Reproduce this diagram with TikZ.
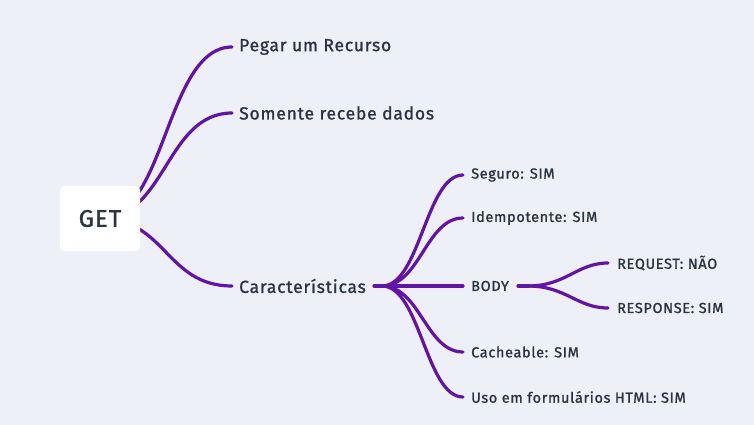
\documentclass[tikz,border=0pt]{standalone}
\usepackage{fontspec}
\setmainfont{Fira Sans}[LetterSpace=4.5,FakeBold=1.2]
\usetikzlibrary{backgrounds}
\definecolor{bgc}{HTML}{EDF0F6}
\definecolor{lnc}{HTML}{6412AD}
\definecolor{txc}{HTML}{2B3441}
\tikzset{
  lbl/.style={anchor=west, inner sep=0pt, text=txc, font=\fontsize{17.5}{20}\selectfont},
  sml/.style={anchor=west, inner sep=0pt, text=txc, font=\fontsize{14.5}{17}\selectfont},
  conn/.style={draw=lnc, line width=3.2pt, line cap=round},
}
\begin{document}
\begin{tikzpicture}[x=1pt,y=-1pt]
\useasboundingbox (0,0) rectangle (754,425);
\node[fill=white, rounded corners=4pt, minimum width=80pt, minimum height=65pt, inner sep=0pt, text=txc, font=\fontsize{24}{27}\selectfont] (get) at (100,218.5) {GET};
\node[lbl] (pegar) at (239,47) {Pegar um Recurso};
\node[lbl] (somente) at (239,113) {Somente recebe dados};
\node[lbl] (carac) at (239,286) {Características};
\node[sml] (seguro) at (471,175) {Seguro: SIM};
\node[sml] (idem) at (471,218) {Idempotente: SIM};
\node[sml] (body) at (471,286) {BODY};
\node[sml] (cache) at (471,352) {Cacheable: SIM};
\node[sml] (uso) at (471,397) {Uso em formulários HTML: SIM};
\node[sml] (req) at (617,263) {REQUEST: NÃO};
\node[sml] (resp) at (617,308) {RESPONSE: SIM};
\coordinate (gs) at (get.center);
\coordinate (gm) at (166,218.5);
\coordinate (cs) at (374,286);
\coordinate (ch) at (382,286);
\coordinate (bs) at (518,286);
\coordinate (bh) at (528,286);
\begin{scope}[on background layer]
\fill[bgc] (0,0) rectangle (754,425);
\foreach \t in {pegar,somente,carac}{
  \draw[conn] (gs) .. controls (gm) and (gm |- \t.west) .. ([xshift=-7pt]\t.west);
}
\end{scope}
\draw[conn] (cs) -- (ch);
\foreach \t in {seguro,idem,body,cache,uso}{
  \draw[conn] (ch) .. controls ([xshift=38pt]ch) and ([xshift=-45pt]\t.west) .. ([xshift=-8pt]\t.west);
}
\draw[conn] (bs) -- (bh);
\foreach \t in {req,resp}{
  \draw[conn] (bh) .. controls ([xshift=38pt]bh) and ([xshift=-40pt]\t.west) .. ([xshift=-9pt]\t.west);
}
\end{tikzpicture}
\end{document}
